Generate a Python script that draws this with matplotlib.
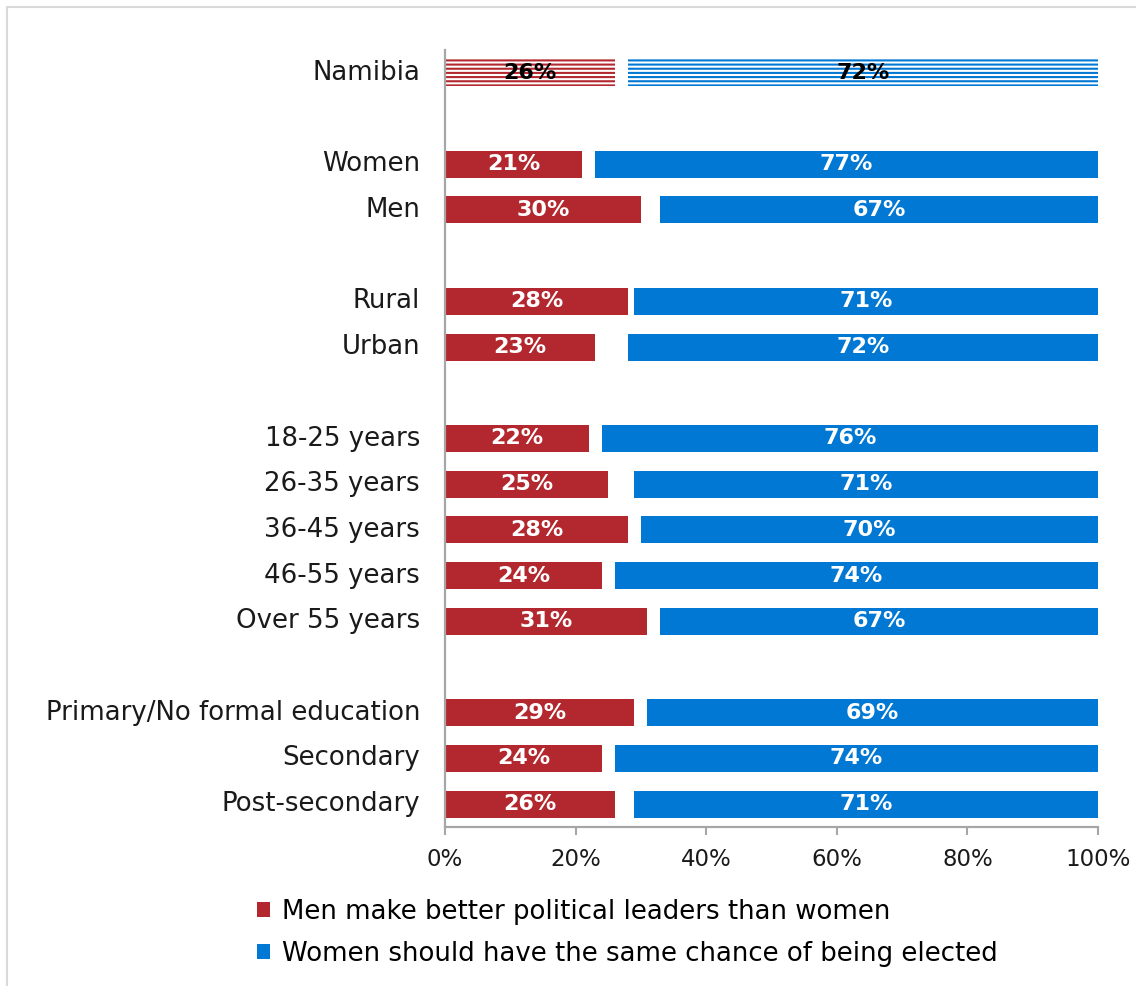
import matplotlib
matplotlib.use("Agg")
import matplotlib.pyplot as plt
from matplotlib.patches import Rectangle, Patch

plt.rcParams['font.family'] = ['DejaVu Sans']
plt.rcParams['hatch.linewidth'] = 1.5

# Survey results (% of respondents)
categories = ["Namibia",
              "Women", "Men",
              "Rural", "Urban",
              "18-25 years", "26-35 years", "36-45 years", "46-55 years", "Over 55 years",
              "Primary/No formal education", "Secondary", "Post-secondary"]
group_sizes = [1, 2, 2, 5, 3]
men_better = [26, 21, 30, 28, 23, 22, 25, 28, 24, 31, 29, 24, 26]
same_chance = [72, 77, 67, 71, 72, 76, 71, 70, 74, 67, 69, 74, 71]
legend_labels = ["Men make better political leaders than women",
                 "Women should have the same chance of being elected"]
x_ticks = [0, 20, 40, 60, 80, 100]

RED = "#B3282E"
BLUE = "#0078D4"
GRID = "#A6A6A6"

# row slots, with a blank slot between groups
positions = []
slot = 0
for size in group_sizes:
    for _ in range(size):
        positions.append(slot)
        slot += 1
    slot += 1

fig = plt.figure(figsize=(11.36, 9.86), dpi=100)
ax = fig.add_axes([445 / 1136, 1 - 827 / 986, 653 / 1136, 777 / 986])

bar_h = 0.59
for i, (pos, m, w) in enumerate(zip(positions, men_better, same_chance)):
    total = i == 0
    if total:
        ax.barh(pos, m, left=0, height=bar_h, color="white", edgecolor=RED,
                hatch="----", linewidth=0, zorder=2)
        ax.barh(pos, w, left=100 - w, height=bar_h, color="white", edgecolor=BLUE,
                hatch="----", linewidth=0, zorder=2)
        txt_color = "black"
    else:
        ax.barh(pos, m, left=0, height=bar_h, color=RED, zorder=2)
        ax.barh(pos, w, left=100 - w, height=bar_h, color=BLUE, zorder=2)
        txt_color = "white"
    ax.text(m / 2, pos, f"{m}%", ha="center", va="center", color=txt_color,
            fontsize=16, fontweight="bold", zorder=3)
    ax.text(100 - w / 2, pos, f"{w}%", ha="center", va="center", color=txt_color,
            fontsize=16, fontweight="bold", zorder=3)

ax.set_xlim(0, 100)
ax.set_ylim(positions[-1] + 0.5, -0.5)
ax.set_yticks(positions)
ax.set_yticklabels(categories, fontsize=18.7, color="#1a1a1a", va="center")
ax.tick_params(axis="y", length=0, pad=18)
ax.set_xticks(x_ticks)
ax.set_xticklabels([f"{t}%" for t in x_ticks], fontsize=16.5, color="#1a1a1a")
ax.tick_params(axis="x", direction="out", length=6, width=1.5, color=GRID, pad=9)

for side in ("top", "right"):
    ax.spines[side].set_visible(False)
for side in ("left", "bottom"):
    ax.spines[side].set_color(GRID)
    ax.spines[side].set_linewidth(1.6)
    ax.spines[side].set_zorder(4)

handles = [Patch(facecolor=RED), Patch(facecolor=BLUE)]
fig.legend(handles, legend_labels, loc="upper left",
           bbox_to_anchor=(257 / 1136, 1 - 899 / 986), frameon=False,
           fontsize=18.7, handlelength=0.5, handleheight=0.5, handletextpad=0.45,
           labelspacing=0.62, borderpad=0, borderaxespad=0)

# light outer frame
fig.add_artist(Rectangle((7 / 1136, -0.1), 1.2, 1.1 - 7 / 986, transform=fig.transFigure,
                         fill=False, edgecolor="#D9D9D9", linewidth=1.5))

fig.savefig("out.png", dpi=100, facecolor="white")
